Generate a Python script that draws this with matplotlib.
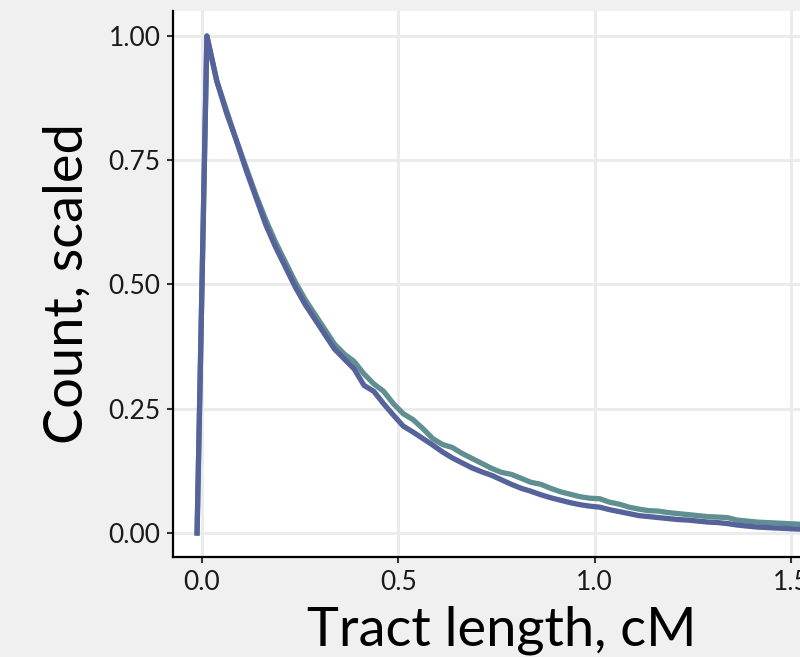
import matplotlib
matplotlib.use("Agg")
import matplotlib.pyplot as plt
import numpy as np

#bin centres, cM
tract_len = np.round(np.arange(-0.0125, 1.60, 0.025), 4)

#scaled counts, blue series
blue_vals = [0.0, 1.0, 0.91, 0.845, 0.79, 0.73, 0.675, 0.62, 0.575, 0.535,
             0.495, 0.46, 0.43, 0.40, 0.37, 0.35, 0.33, 0.297, 0.285, 0.26,
             0.237, 0.215, 0.203, 0.19, 0.177, 0.163, 0.151, 0.141, 0.131, 0.123,
             0.116, 0.107, 0.098, 0.09, 0.084, 0.077, 0.071, 0.066, 0.061, 0.057,
             0.054, 0.052, 0.047, 0.043, 0.039, 0.035, 0.033, 0.031, 0.029, 0.027,
             0.026, 0.024, 0.022, 0.021, 0.019, 0.016, 0.014, 0.012, 0.011, 0.010,
             0.009, 0.008, 0.0075, 0.007, 0.006]

#scaled counts, teal series
teal_vals = [0.0, 1.0, 0.91, 0.85, 0.79, 0.735, 0.68, 0.63, 0.585, 0.545,
             0.505, 0.47, 0.44, 0.41, 0.38, 0.36, 0.345, 0.32, 0.30, 0.285,
             0.26, 0.24, 0.228, 0.21, 0.19, 0.178, 0.172, 0.16, 0.15, 0.14,
             0.13, 0.122, 0.118, 0.11, 0.102, 0.098, 0.09, 0.083, 0.078, 0.073,
             0.07, 0.069, 0.062, 0.058, 0.052, 0.048, 0.045, 0.044, 0.041, 0.039,
             0.037, 0.035, 0.033, 0.032, 0.031, 0.026, 0.024, 0.022, 0.021, 0.020,
             0.019, 0.018, 0.017, 0.016, 0.015]

x_ticks = [0.0, 0.5, 1.0, 1.5]
x_tick_labels = ["0.0", "0.5", "1.0", "1.5"]
y_ticks = [0.0, 0.25, 0.5, 0.75, 1.0]
y_tick_labels = ["0.00", "0.25", "0.50", "0.75", "1.00"]

n = min(len(tract_len), len(blue_vals), len(teal_vals))

plt.rcParams['font.family'] = ['Lato', 'DejaVu Sans']

fig = plt.figure(figsize=(8, 6.57), dpi=100, facecolor='#F0F0F0')
ax = fig.add_axes([173/800, 100/657, (830-173)/800, (557-11)/657])
ax.set_facecolor('white')

ax.plot(tract_len[:n], teal_vals[:n], color='#5F8F91', lw=3.8, zorder=3)
ax.plot(tract_len[:n], blue_vals[:n], color='#55639A', lw=3.8, zorder=4)

ax.set_xlim(-0.0738, 1.599)
ax.set_ylim(-0.0483, 1.0503)
ax.set_xticks(x_ticks)
ax.set_xticklabels(x_tick_labels)
ax.set_yticks(y_ticks)
ax.set_yticklabels(y_tick_labels)

ax.grid(True, color='#EBEBEB', lw=2.2, zorder=0)
ax.set_axisbelow(True)

for s in ['top', 'right']:
    ax.spines[s].set_visible(False)
for s in ['left', 'bottom']:
    ax.spines[s].set_color('black')
    ax.spines[s].set_linewidth(1.6)

ax.tick_params(axis='both', length=4, width=1.5, color='#333333',
               labelsize=19, labelcolor='#1A1A1A', pad=5)

ax.set_xlabel('Tract length, cM', fontsize=39, labelpad=8)
ax.set_ylabel('Count, scaled', fontsize=39, labelpad=12)

fig.savefig('out.png', dpi=100, facecolor=fig.get_facecolor())
